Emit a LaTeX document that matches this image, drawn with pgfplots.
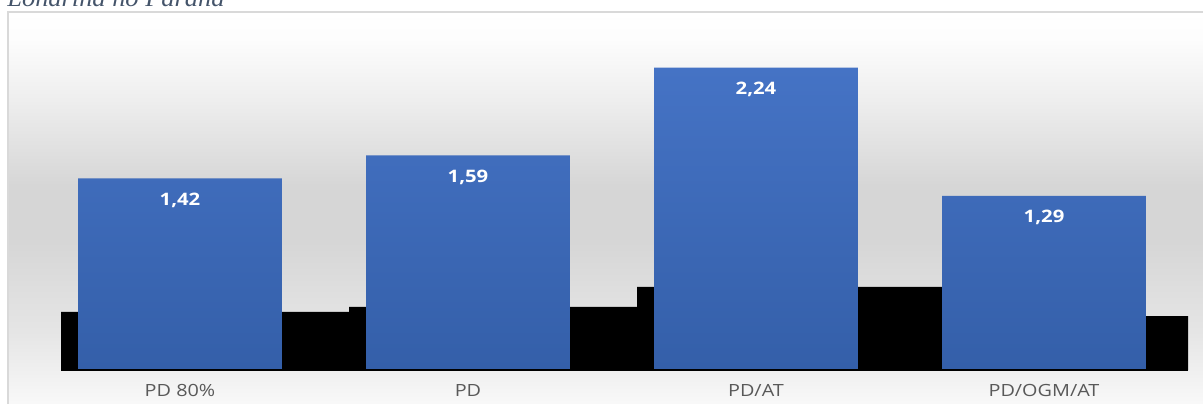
\documentclass[border=0pt]{standalone}
\usepackage{pgfplots}
\pgfplotsset{compat=1.18}
\usepackage{fontspec}
\setmainfont{Open Sans}
\newfontfamily\lbl[FakeStretch=1.18]{Open Sans}
\newfontfamily\ttl[FakeStretch=1.1]{Liberation Serif}
\definecolor{barTop}{HTML}{4573C5}
\definecolor{barBot}{HTML}{345FA9}
\definecolor{catGray}{HTML}{595959}
\definecolor{ttlCol}{HTML}{44546A}
\definecolor{frameCol}{HTML}{D9D9D9}
\pgfdeclareverticalshading{bgshade}{100bp}{%
  color(0bp)=(white!98!black);
  color(25bp)=(white!98!black);
  color(28bp)=(white!97!black);
  color(36bp)=(white!90!black);
  color(47bp)=(white!84!black);
  color(54bp)=(white!84!black);
  color(64bp)=(white!93!black);
  color(71.5bp)=(white!99!black);
  color(75bp)=(white);
  color(100bp)=(white)}
\begin{document}
\begin{tikzpicture}
\path[use as bounding box] (0pt,0pt) rectangle (601.5pt,-201.5pt);
\clip (0pt,0pt) rectangle (601.5pt,-201.5pt);
% frame with gradient
\path[shading=bgshade] (4pt,-6pt) rectangle (612pt,-212pt);
\draw[frameCol, line width=0.8pt] (4pt,-212pt) -- (4pt,-6pt) -- (612pt,-6pt);
% title (cut off at top)
\node[anchor=base west, inner sep=0pt, text=ttlCol, font=\ttl\itshape\fontsize{12}{14}\selectfont] at (3.5pt,-3.2pt) {Londrina no Paraná};
\begin{axis}[
  at={(18pt,-185pt)}, anchor=south west,
  scale only axis,
  width=576pt, height=168.75pt,
  xmin=-0.5, xmax=3.5,
  ymin=0, ymax=2.5,
  axis line style={draw=none},
  ytick=\empty,
  xtick={0,1,2,3},
  xticklabels={PD 80\%, PD, PD/AT, PD/OGM/AT},
  major tick length=0pt,
  xticklabel style={anchor=base, yshift=-13.25pt, text=catGray, font=\lbl\fontsize{8.4}{10}\selectfont},
  clip=true,
]
\addplot[ybar, bar width=1.1, bar shift=0.137, fill=black, draw=none]
  coordinates {(0,0.43) (1,0.467) (2,0.615) (3,0.40)};
\addplot[ybar, bar width=0.708, bar shift=0, draw=none, top color=barTop, bottom color=barBot,
  point meta=explicit symbolic,
  nodes near coords,
  every node near coord/.append style={anchor=center, yshift=-11pt, text=white, font=\lbl\bfseries\fontsize{8.6}{10}\selectfont}]
  coordinates {(0,1.42) [1,42] (1,1.59) [1,59] (2,2.24) [2,24] (3,1.29) [1,29]};
\draw[black, line width=0.6pt] (axis cs:-0.413,0) -- (axis cs:3.5,0);
\end{axis}
\end{tikzpicture}
\end{document}
